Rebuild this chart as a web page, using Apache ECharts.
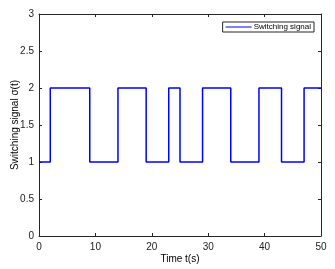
<!DOCTYPE html>
<html><head><meta charset="utf-8">
<script src="https://cdn.jsdelivr.net/npm/echarts@6/dist/echarts.min.js"></script>
<style>html,body{margin:0;padding:0;background:#fff}#c{width:335px;height:269px}</style>
</head><body><div id="c"></div>
<script>
const switchTimes = [0, 2, 9, 14, 19, 23, 25, 29, 34, 39, 43, 47, 50];
const switchValues = [1, 2, 1, 2, 1, 2, 1, 2, 1, 2, 1, 2, 2];
const xTicks = [0, 10, 20, 30, 40, 50];
const yTicks = [0, 0.5, 1, 1.5, 2, 2.5, 3];
const seriesName = 'Switching signal';

const data = switchTimes.map((t, i) => [t, switchValues[i]]);
const font = 'Liberation Sans, Arial, sans-serif';
const axisCommon = {
  axisLine: {show: true, onZero: false, lineStyle: {color: '#262626', width: 1}},
  axisTick: {show: true, inside: true, length: 3, lineStyle: {color: '#262626'}},
  splitLine: {show: false}
};
const chart = echarts.init(document.getElementById('c'));
chart.setOption({
  animation: false,
  grid: {left: 39, right: 14, top: 14, bottom: 33, containLabel: false, outerBoundsMode: 'none'},
  legend: {
    right: 21, top: 22, orient: 'vertical',
    borderColor: '#262626', borderWidth: 1, borderRadius: 0,
    padding: [1, 3, 1, 3],
    itemWidth: 26, itemHeight: 8, itemGap: 0,
    icon: 'path://M0,4L26,4L26,5L0,5Z',
    textStyle: {fontFamily: font, fontSize: 8, color: '#000', padding: [0, 0, 0, -3]},
    data: [seriesName]
  },
  xAxis: [{
    type: 'value', min: 0, max: 50, interval: 10,
    ...axisCommon,
    axisLabel: {fontFamily: font, fontSize: 10, color: '#222', margin: 6},
    name: 'Time t(s)', nameLocation: 'middle', nameGap: 18, nameMoveOverlap: false,
    nameTextStyle: {fontFamily: font, fontSize: 10, color: '#000'}
  }, {
    type: 'value', min: 0, max: 50, interval: 10, position: 'top',
    ...axisCommon, axisLabel: {show: false}
  }],
  yAxis: [{
    type: 'value', min: 0, max: 3, interval: 0.5,
    ...axisCommon,
    axisLabel: {fontFamily: font, fontSize: 10, color: '#222', margin: 5},
    name: 'Switching signal σ(t)', nameLocation: 'middle', nameGap: 19, nameMoveOverlap: false,
    nameTextStyle: {fontFamily: font, fontSize: 10, color: '#000'}
  }, {
    type: 'value', min: 0, max: 3, interval: 0.5, position: 'right',
    ...axisCommon, axisLabel: {show: false}
  }],
  series: [{
    name: seriesName, type: 'line', step: 'end', data: data,
    showSymbol: false, symbol: 'none',
    lineStyle: {color: '#0000ff', width: 1.5},
    itemStyle: {color: '#0000ff'}
  }]
});
</script></body></html>
